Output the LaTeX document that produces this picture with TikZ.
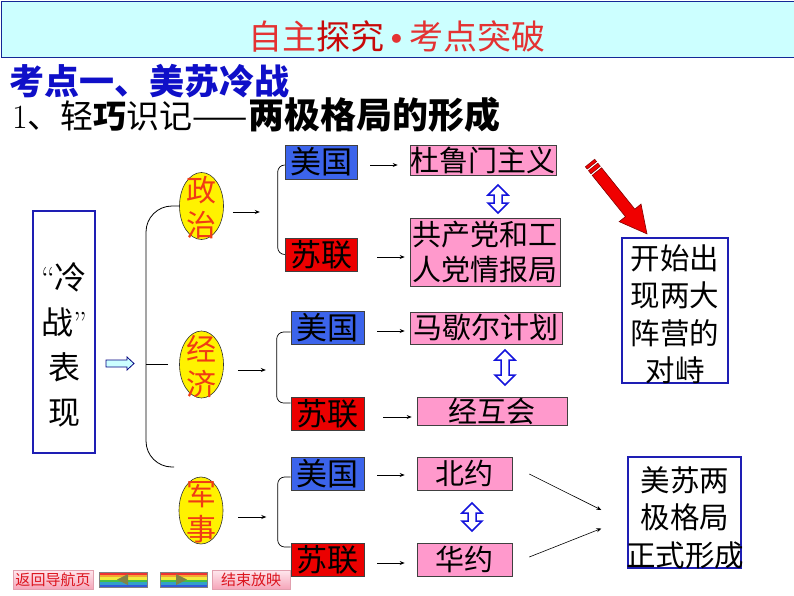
\documentclass[tikz,border=0pt]{standalone}
\usepackage{fontspec}
\newfontfamily\cjk{Noto Sans CJK SC}
\usetikzlibrary{arrows.meta,calc,shapes.geometric}
\definecolor{hdr}{RGB}{204,255,255}
\definecolor{hdrline}{RGB}{20,40,150}
\definecolor{ttl}{RGB}{228,50,50}
\definecolor{ttld}{RGB}{200,10,10}
\definecolor{kblue}{RGB}{15,15,200}
\definecolor{usb}{RGB}{60,100,235}
\definecolor{sur}{RGB}{235,0,0}
\definecolor{pk}{RGB}{255,153,204}
\definecolor{bxline}{RGB}{30,30,180}
\definecolor{elltxt}{RGB}{240,60,20}
\definecolor{dblc}{RGB}{20,20,220}
\definecolor{btnred}{RGB}{220,20,30}
\definecolor{btntop}{RGB}{255,232,238}
\definecolor{btnbot}{RGB}{245,165,185}
\definecolor{btnedge}{RGB}{225,160,175}
\definecolor{rb1}{RGB}{240,50,50}
\definecolor{rb2}{RGB}{245,165,50}
\definecolor{rb3}{RGB}{240,235,60}
\definecolor{rb4}{RGB}{70,190,70}
\definecolor{rb5}{RGB}{50,160,200}
\definecolor{rb6}{RGB}{50,90,220}
\definecolor{tri}{RGB}{130,130,70}
\definecolor{redarr}{RGB}{240,0,0}
\definecolor{redarrl}{RGB}{130,0,0}
\tikzset{
  usbox/.style={draw=black!75, fill=usb, line width=0.6pt, minimum width=73pt, minimum height=33pt, inner sep=0pt, font=\cjk\fontsize{31}{31}\selectfont},
  subox/.style={usbox, fill=sur},
  pkbox/.style={draw=black!75, fill=pk, line width=0.6pt, inner sep=0pt, font=\cjk\fontsize{29}{35}\selectfont, align=center},
  ell/.style={ellipse, draw=black!80, fill=yellow, line width=0.6pt, minimum width=44pt, minimum height=67pt, inner sep=0pt},
  elltext/.style={font=\cjk\fontsize{30}{35}\selectfont, text=elltxt, align=center, inner sep=0pt},
  sarr/.style={-{Stealth[length=5pt,width=4pt]}, line width=0.7pt},
  brace/.style={line width=0.7pt, rounded corners=7pt},
  bluebox/.style={draw=bxline, line width=1.3pt, inner sep=0pt},
  bluetext/.style={font=\cjk\fontsize{29.5}{37.5}\selectfont, align=center, inner sep=0pt},
  navbtn/.style={top color=btntop, bottom color=btnbot, draw=btnedge, line width=0.5pt, minimum width=80pt, minimum height=19pt, inner sep=0pt, text=btnred, font=\cjk\fontsize{15}{15}\selectfont},
  pics/vdbl/.style={code={
    \draw[draw=dblc, fill=white, line width=1.5pt, line join=miter]
      (0,-#1) -- (10,-#1+10) -- (4,-#1+10) -- (4,#1-10) -- (10,#1-10) -- (0,#1)
      -- (-10,#1-10) -- (-4,#1-10) -- (-4,-#1+10) -- (-10,-#1+10) -- cycle;
  }}
}
\begin{document}
\begin{tikzpicture}[x=1pt,y=-1pt]
\useasboundingbox (0,0) rectangle (794,596);
\fill[white] (0,0) rectangle (794,596);

% header
\node[draw=hdrline, fill=hdr, line width=1.2pt, minimum width=793pt, minimum height=56pt, inner sep=0pt, anchor=north west] (hdr) at (0.6,0.6) {};
\node[font=\cjk\fontsize{34}{34}\selectfont, text=ttl, inner sep=0pt] (title) at (397,36) {自主{\color{ttld}探究}\kern-2pt{\normalfont\fontsize{40}{40}\selectfont\textbullet}\kern-2pt考点突破};

\node[anchor=west, font=\cjk\bfseries\fontsize{35}{35}\selectfont, text=kblue, inner sep=0pt] (k1) at (9,81) {考点一、美苏冷战};
\node[anchor=base west, inner sep=0pt] (k2) at (12,129) {{\normalfont\fontsize{34}{34}\selectfont 1}{\cjk\fontsize{33}{33}\selectfont 、轻{\bfseries 巧}识记——}{\cjk\bfseries\fontsize{36}{36}\selectfont 两极格局的形成}};

% left box
\node[bluebox, minimum width=62pt, minimum height=242pt] (lb) at (64,332) {};
\node[font=\cjk\fontsize{32}{45}\selectfont, align=center, inner sep=0pt] (lbt) at (64,345) {{\normalfont “}冷\\战{\normalfont ”}\\表\\现};

% hollow arrow
\draw[fill=hdr, draw=black!50!blue, line width=0.8pt] (106,360) -- (127,360) -- (127,357) -- (134,363.5) -- (127,370) -- (127,367) -- (106,367) -- cycle;

% ellipses
\node[ell] (pol) at (201.5,206) {};
\node[elltext] (polt) at ($(pol.center)+(0,2)$) {政\\治};
\node[ell] (eco) at (201.5,364.5) {};
\node[elltext] (ecot) at ($(eco.center)+(0,2)$) {经\\济};
\node[ell] (mil) at (201,510.5) {};
\node[elltext] (milt) at ($(mil.center)+(0,2)$) {军\\事};

% main brace
\coordinate (bx) at (146,467);
\coordinate (bend) at (174,467);
\draw[line width=0.8pt, rounded corners=26pt] (pol.west) -| (bx) -- (bend);
\draw[line width=0.8pt] ([xshift=-11pt]eco.west) -- (bx |- eco.west);

% arrows from ellipses
\draw[sarr] ($(pol.east)+(9,6)$) -- ++(27,0);
\draw[sarr] ($(eco.east)+(14,5.5)$) -- ++(28,0);
\draw[sarr] ($(mil.east)+(15,6.5)$) -- ++(28,0);

% country boxes
\node[usbox, minimum width=72pt, minimum height=34pt] (us1) at (321,162) {美国};
\node[subox, minimum width=72pt] (su1) at (321,254.5) {苏联};
\node[usbox] (us2) at (327.5,328) {美国};
\node[subox] (su2) at (327.5,413.5) {苏联};
\node[usbox] (us3) at (327.5,473.5) {美国};
\node[subox] (su3) at (327.5,559.5) {苏联};

% braces
\draw[brace] ([yshift=-3pt]us1.west) -| ([xshift=-7pt]su1.west) -- (su1.west);
\draw[brace] ([yshift=-4pt]us2.west) -| ([xshift=-14pt,yshift=10.5pt]su2.west) -- ([yshift=10.5pt]su2.west);
\draw[brace] ([yshift=-3.5pt]us3.west) -| ([xshift=-13pt,yshift=12.5pt]su3.west) -- ([yshift=12.5pt]su3.west);

% pink boxes
\node[pkbox, minimum width=146pt, minimum height=30pt] (p1) at (483,160) {杜鲁门主义};
\node[pkbox, minimum width=150pt, minimum height=68pt] (p2) at (485,252) {共产党和工\\人党情报局};
\node[pkbox, minimum width=152pt, minimum height=32pt] (p3) at (486,328) {马歇尔计划};
\node[pkbox, minimum width=150pt, minimum height=28pt] (p4) at (492,411) {经互会};
\node[pkbox, minimum width=95pt, minimum height=33pt] (p5) at (464.5,473.5) {北约};
\node[pkbox, minimum width=95pt, minimum height=33pt] (p6) at (464.5,559.5) {华约};

% arrows country -> item
\draw[sarr] ($(us1.east)+(13,3)$) -- ($(us1.east -| p1.west)+(-12,3)$);
\draw[sarr] ($(su1.east)+(20,2.5)$) -- ($(su1.east -| p2.west)+(-5,2.5)$);
\draw[sarr] ($(us2.east)+(13,3)$) -- ($(us2.east -| p3.west)+(-5,3)$);
\draw[sarr] ($(su2.east)+(19,3.5)$) -- ($(su2.east -| p4.west)+(-5,3.5)$);
\draw[sarr] ($(us3.east)+(13,1.5)$) -- ($(us3.east -| p5.west)+(-12,1.5)$);
\draw[sarr] ($(su3.east)+(13,3.5)$) -- ($(su3.east -| p6.west)+(-12,3.5)$);

% double arrows
\pic (d1) at (498,199) {vdbl=14};
\pic (d2) at (505,367.5) {vdbl=17.5};
\pic (d3) at (472,517) {vdbl=14};

% right boxes
\node[bluebox, minimum width=106pt, minimum height=145pt] (pair) at (675,310.5) {};
\node[bluetext] (pairt) at (675,314.5) {开始出\\现两大\\阵营的\\对峙};
\node[bluebox, minimum width=113pt, minimum height=111pt] (res) at (684.5,512.5) {};
\node[bluetext] (rest) at (685,517.5) {美苏两\\极格局\\正式形成};

% red arrow
\begin{scope}[shift={(590,163)}, rotate=-51.2]
  \fill[redarr, draw=redarrl, line width=0.5pt] (0,-6) rectangle (3,6);
  \fill[redarr, draw=redarrl, line width=0.5pt] (5,-6) rectangle (9,6);
  \fill[redarr, draw=redarrl, line width=0.6pt] (11,-6) -- (64,-6) -- (64,-14) -- (91,0) -- (64,14) -- (64,6) -- (11,6) -- cycle;
\end{scope}

% arrows to result
\draw[sarr, line width=0.6pt] ($(p5.east)+(17,0.5)$) -- ($(res.west)+(-26,-2.5)$);
\draw[sarr, line width=0.6pt] ($(p6.east)+(17,-2.5)$) -- ($(res.west)+(-26,16)$);

% navigation buttons
\node[navbtn] (back) at (53,579.5) {返回导航页};
\node[navbtn, minimum width=78pt] (endshow) at (251,579.5) {结束放映};
\foreach \c [count=\i] in {rb1,rb2,rb3,rb4,rb5,rb6} {
  \fill[\c] (99,{572+(\i-1)*2.5}) rectangle (147,{572+\i*2.5});
  \fill[\c] (160,{572+(\i-1)*2.5}) rectangle (207,{572+\i*2.5});
}
\draw[gray, line width=0.5pt] (99,572) rectangle (147,587);
\draw[gray, line width=0.5pt] (160,572) rectangle (207,587);
\fill[tri] (117,579.5) -- (128,574) -- (128,585) -- cycle;
\fill[tri] (187,579.5) -- (176,574) -- (176,585) -- cycle;
\end{tikzpicture}
\end{document}
